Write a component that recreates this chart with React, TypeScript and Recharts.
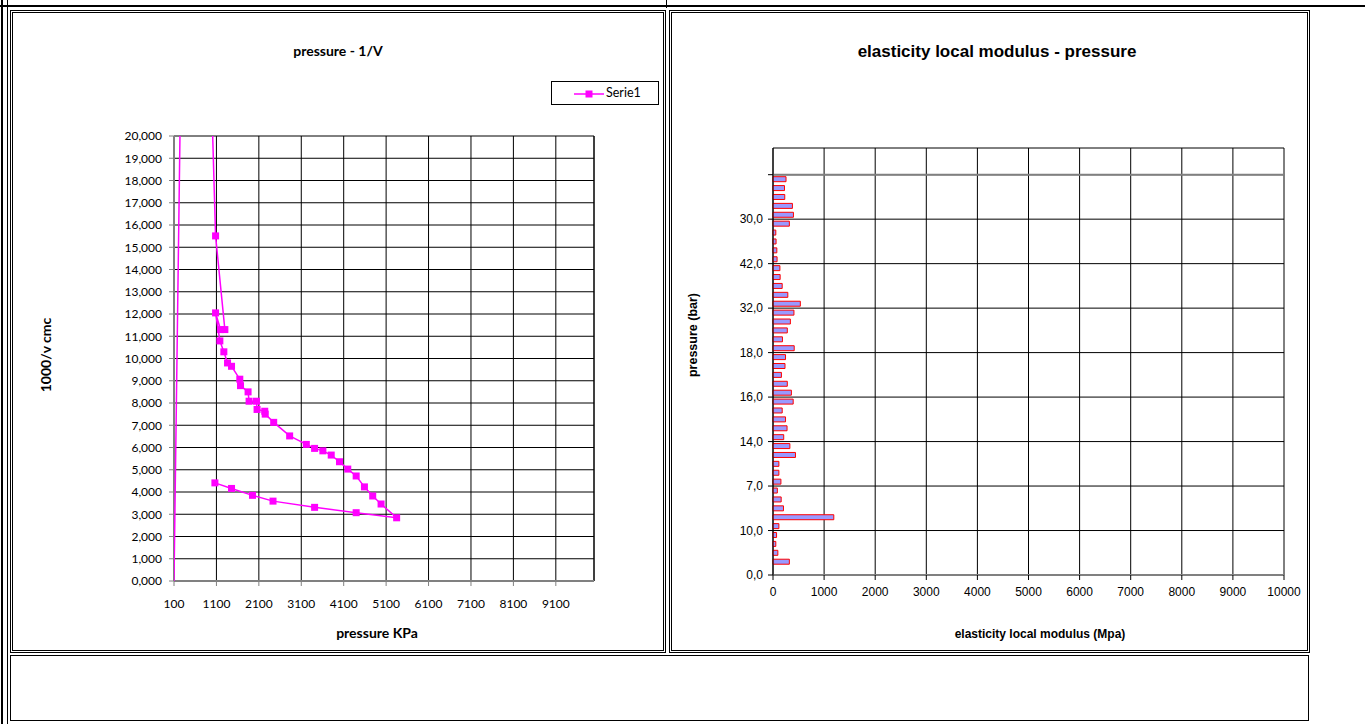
import React from "react";
import {
  ScatterChart,
  Scatter,
  BarChart,
  Bar,
  XAxis,
  YAxis,
  CartesianGrid,
  ReferenceLine,
} from "recharts";

// pressure - 1/V, points in measurement order
const PRESSURE_KPA = [
  100, 485, 1080, 1299, 1197, 1080, 1181, 1275, 1362, 1456, 1651, 1668, 1846,
  1870, 2044, 2058, 2239, 2250, 2450, 2826, 3219, 3414, 3609, 3806, 4001, 4196,
  4394, 4589, 4784, 4981, 5348, 4394, 3414, 2434, 1950, 1456, 1064,
];
const INV_VOLUME = [
  0, 54.8, 15.51, 11.3, 11.3, 12.05, 10.79, 10.3, 9.8, 9.65, 9.07, 8.78, 8.5,
  8.08, 8.08, 7.71, 7.63, 7.5, 7.13, 6.52, 6.14, 5.96, 5.85, 5.66, 5.36, 5.03,
  4.72, 4.23, 3.82, 3.46, 2.84, 3.07, 3.31, 3.59, 3.85, 4.16, 4.41,
];
const PRESSURE_TICKS = [100, 1100, 2100, 3100, 4100, 5100, 6100, 7100, 8100, 9100];
const VOLUME_TICKS = [0, 1, 2, 3, 4, 5, 6, 7, 8, 9, 10, 11, 12, 13, 14, 15, 16, 17, 18, 19, 20];

// elasticity local modulus, bottom category first (first category is empty)
const MODULUS = [
  320, 95, 55, 70, 115, 1190, 205, 160, 85, 155, 115, 115, 440, 330, 210, 275,
  245, 180, 395, 360, 280, 165, 235, 245, 415, 185, 280, 340, 410, 535, 290,
  180, 140, 135, 80, 75, 60, 55, 320, 400, 380, 230, 225, 255,
];
const BAR_LABELS = ["0,0", "10,0", "7,0", "14,0", "16,0", "18,0", "32,0", "42,0", "30,0", ""];
const MODULUS_TICKS = [0, 1000, 2000, 3000, 4000, 5000, 6000, 7000, 8000, 9000, 10000];

const scatterData = PRESSURE_KPA.map((p, i) => ({ p, v: INV_VOLUME[i] }));
const barData = MODULUS.map((m, i) => ({ pos: i + 1.5, modulus: m }));
const barTicks = BAR_LABELS.map((_, i) => i * 5);

const MAGENTA = "#FF00FF";

// the start point sits on the axis edge in the original, its marker is not shown
const SquareDot = (props: any) => {
  const { cx, cy, payload } = props;
  if (cx == null || cy == null) return null;
  if (payload && payload.p <= PRESSURE_TICKS[0]) return null;
  return <rect x={cx - 3.5} y={cy - 3.5} width={7} height={7} fill={MAGENTA} />;
};

const Text = ({ x, y, children, size = 12, font, rotate = false, bold = true }: any) => (
  <div
    style={{
      position: "absolute",
      left: x,
      top: y,
      transform: `translate(-50%, -50%)${rotate ? " rotate(-90deg)" : ""}`,
      fontFamily: font,
      fontSize: size,
      fontWeight: bold ? 700 : 400,
      whiteSpace: "nowrap",
      color: "#000",
    }}
  >
    {children}
  </div>
);

const box = (left: number, top: number, width: number, height: number, extra: any = {}) => ({
  position: "absolute" as const,
  left,
  top,
  width,
  height,
  boxSizing: "border-box" as const,
  ...extra,
});

export default function App() {
  const lato = "Lato, 'Open Sans', sans-serif";
  const arial = "'Liberation Sans', Arial, sans-serif";

  return (
    <div style={{ position: "absolute", left: 0, top: 0, width: 1365, height: 724, background: "#fff", overflow: "hidden" }}>
      {/* table frame */}
      <div style={box(0, 5, 1365, 2, { background: "#000" })} />
      <div style={box(1, 0, 2, 724, { background: "#000" })} />
      <div style={box(7, 0, 1, 724, { background: "#000" })} />
      <div style={box(666, 0, 1, 8, { background: "#000" })} />
      <div style={box(10, 10, 656, 643, { border: "3px double #000" })} />
      <div style={box(669, 10, 641, 643, { border: "3px double #000" })} />
      <div style={box(10, 655, 1299, 66, { border: "1px solid #000" })} />

      {/* left chart */}
      <div style={box(14, 14, 648, 634)}>
        <ScatterChart width={648} height={634} margin={{ top: 122, right: 68, bottom: 0, left: 0 }}>
          <CartesianGrid stroke="#000" strokeWidth={1} />
          <XAxis
            type="number"
            dataKey="p"
            domain={[100, 10000]}
            ticks={PRESSURE_TICKS}
            allowDataOverflow
            height={67}
            interval={0}
            tickSize={5}
            tickMargin={13}
            axisLine={{ stroke: "#808080", strokeWidth: 2 }}
            tickLine={{ stroke: "#808080" }}
            tick={{ fontFamily: lato, fontSize: 12, fill: "#000" }}
          />
          <YAxis
            type="number"
            dataKey="v"
            domain={[0, 20]}
            ticks={VOLUME_TICKS}
            allowDataOverflow
            width={160}
            interval={0}
            tickSize={5}
            tickMargin={7}
            axisLine={{ stroke: "#808080", strokeWidth: 2 }}
            tickLine={{ stroke: "#808080" }}
            tick={{ fontFamily: lato, fontSize: 12, fill: "#000" }}
            tickFormatter={(v: number) => v.toFixed(3).replace(".", ",")}
          />
          <ReferenceLine x={10000} stroke="#000" />
          <Scatter
            data={scatterData}
            fill={MAGENTA}
            line={{ stroke: MAGENTA, strokeWidth: 1.5 }}
            shape={SquareDot}
            isAnimationActive={false}
          />
        </ScatterChart>
      </div>
      <Text x={338} y={50} font={lato} size={14}>pressure - 1/V</Text>
      <Text x={377} y={632} font={lato} size={14}>pressure KPa</Text>
      <Text x={45} y={355} font={lato} size={14} rotate>1000/v cmc</Text>
      <div style={box(551, 81, 108, 24, { border: "1px solid #000", background: "#fff" })}>
        <svg width={34} height={22} style={{ position: "absolute", left: 20, top: 0 }}>
          <line x1={2} y1={12} x2={32} y2={12} stroke={MAGENTA} strokeWidth={1.5} />
          <rect x={13.5} y={8.5} width={7} height={7} fill={MAGENTA} />
        </svg>
        <span style={{ position: "absolute", left: 54, top: 3, fontFamily: lato, fontSize: 12.5 }}>Serie1</span>
      </div>

      {/* right chart */}
      <div style={box(673, 14, 632, 634)}>
        <BarChart
          layout="vertical"
          width={632}
          height={634}
          data={barData}
          margin={{ top: 134, right: 21, bottom: 0, left: 0 }}
        >
          <CartesianGrid stroke="#000" strokeWidth={1} />
          <XAxis
            type="number"
            domain={[0, 10000]}
            ticks={MODULUS_TICKS}
            interval={0}
            height={73}
            tickSize={5}
            tickMargin={7}
            axisLine={{ stroke: "#808080", strokeWidth: 2 }}
            tickLine={{ stroke: "#000" }}
            tick={{ fontFamily: arial, fontSize: 12, fill: "#000" }}
          />
          <YAxis
            type="number"
            dataKey="pos"
            domain={[0, 48]}
            ticks={barTicks}
            reversed
            interval={0}
            width={100}
            tickSize={5}
            tickMargin={5}
            axisLine={{ stroke: "#000" }}
            tickLine={{ stroke: "#000" }}
            tick={{ fontFamily: arial, fontSize: 12, fill: "#000" }}
            tickFormatter={(v: number) => BAR_LABELS[v / 5]}
          />
          <ReferenceLine y={45} stroke="#808080" strokeWidth={2} />
          <Bar dataKey="modulus" fill="#9999FF" stroke="#FF0000" strokeWidth={1} barSize={5} isAnimationActive={false} />
        </BarChart>
      </div>
      <Text x={997} y={52} font={arial} size={17}>elasticity local modulus - pressure</Text>
      <Text x={1040} y={634} font={arial} size={12}>elasticity local modulus (Mpa)</Text>
      <Text x={693} y={335} font={arial} size={12.5} rotate>pressure (bar)</Text>
    </div>
  );
}
